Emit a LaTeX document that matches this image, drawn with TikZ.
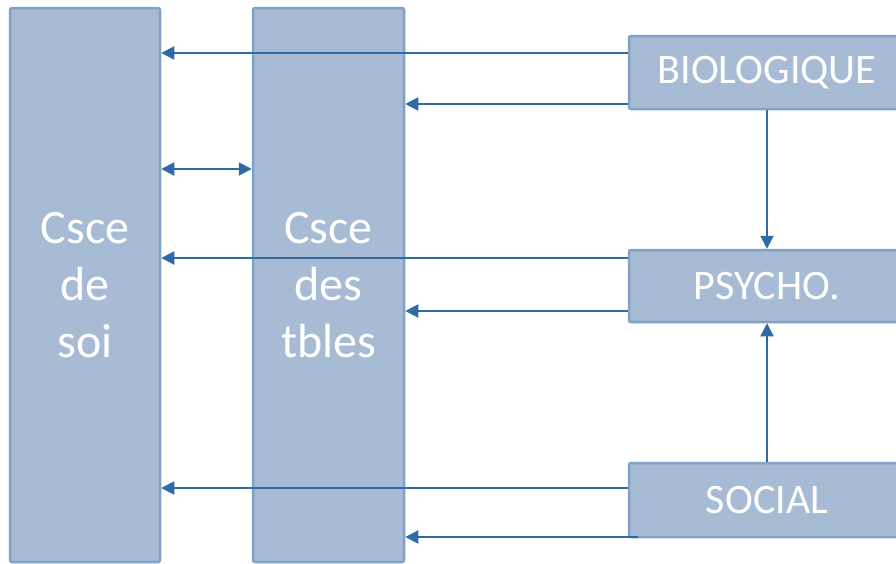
\documentclass[tikz,border=0pt]{standalone}
\usepackage{fontspec}
\setmainfont{Carlito}
\usetikzlibrary{arrows.meta}
\definecolor{boxfill}{HTML}{A7BCD4}
\definecolor{boxline}{HTML}{7FA2C7}
\definecolor{arrcol}{HTML}{2E6AA6}
\tikzset{
  colbox/.style={draw=boxline, line width=2.5pt, fill=boxfill, rounded corners=2pt,
    text=white, align=center, inner sep=0pt,
    font=\fontsize{48}{57}\selectfont},
  sidebox/.style={draw=boxline, line width=2.5pt, fill=boxfill, rounded corners=2pt,
    text=white, inner sep=0pt, font=\fontsize{42}{50}\selectfont},
  arr/.style={draw=arrcol, line width=2pt, -{Triangle[length=13pt,width=13pt]}},
  darr/.style={draw=arrcol, line width=2pt, {Triangle[length=13pt,width=13pt]}-{Triangle[length=13pt,width=13pt]}}
}
\begin{document}
\begin{tikzpicture}[x=1pt,y=-1pt]
\useasboundingbox (0,0) rectangle (896,563);
\node[colbox, minimum width=150pt, minimum height=554pt] (soi) at (85,285) {Csce\\de\\soi};
\node[colbox, minimum width=151pt, minimum height=554pt] (tbles) at (328.5,285) {Csce\\des\\tbles};
\node[sidebox, minimum width=276pt, minimum height=73pt] (bio) at (767,72.5) {BIOLOGIQUE};
\node[sidebox, minimum width=276pt, minimum height=72pt] (psy) at (767,286) {PSYCHO.};
\node[sidebox, minimum width=276pt, minimum height=74pt] (soc) at (767,500) {SOCIAL};
\draw[arr] (bio.west |- 0,53) -- (soi.east |- 0,53);
\draw[arr] (bio.west |- 0,104) -- (tbles.east |- 0,104);
\draw[darr] (soi.east |- 0,169) -- (tbles.west |- 0,169);
\draw[arr] (psy.west |- 0,258) -- (soi.east |- 0,258);
\draw[arr] (psy.west |- 0,311) -- (tbles.east |- 0,311);
\draw[arr] (soc.west |- 0,488) -- (soi.east |- 0,488);
\coordinate (socb) at (638,537);
\draw[arr] (socb) -- (tbles.east |- socb);
\draw[arr] (bio.south) -- (psy.north);
\draw[arr] (soc.north) -- (psy.south);
\end{tikzpicture}
\end{document}
